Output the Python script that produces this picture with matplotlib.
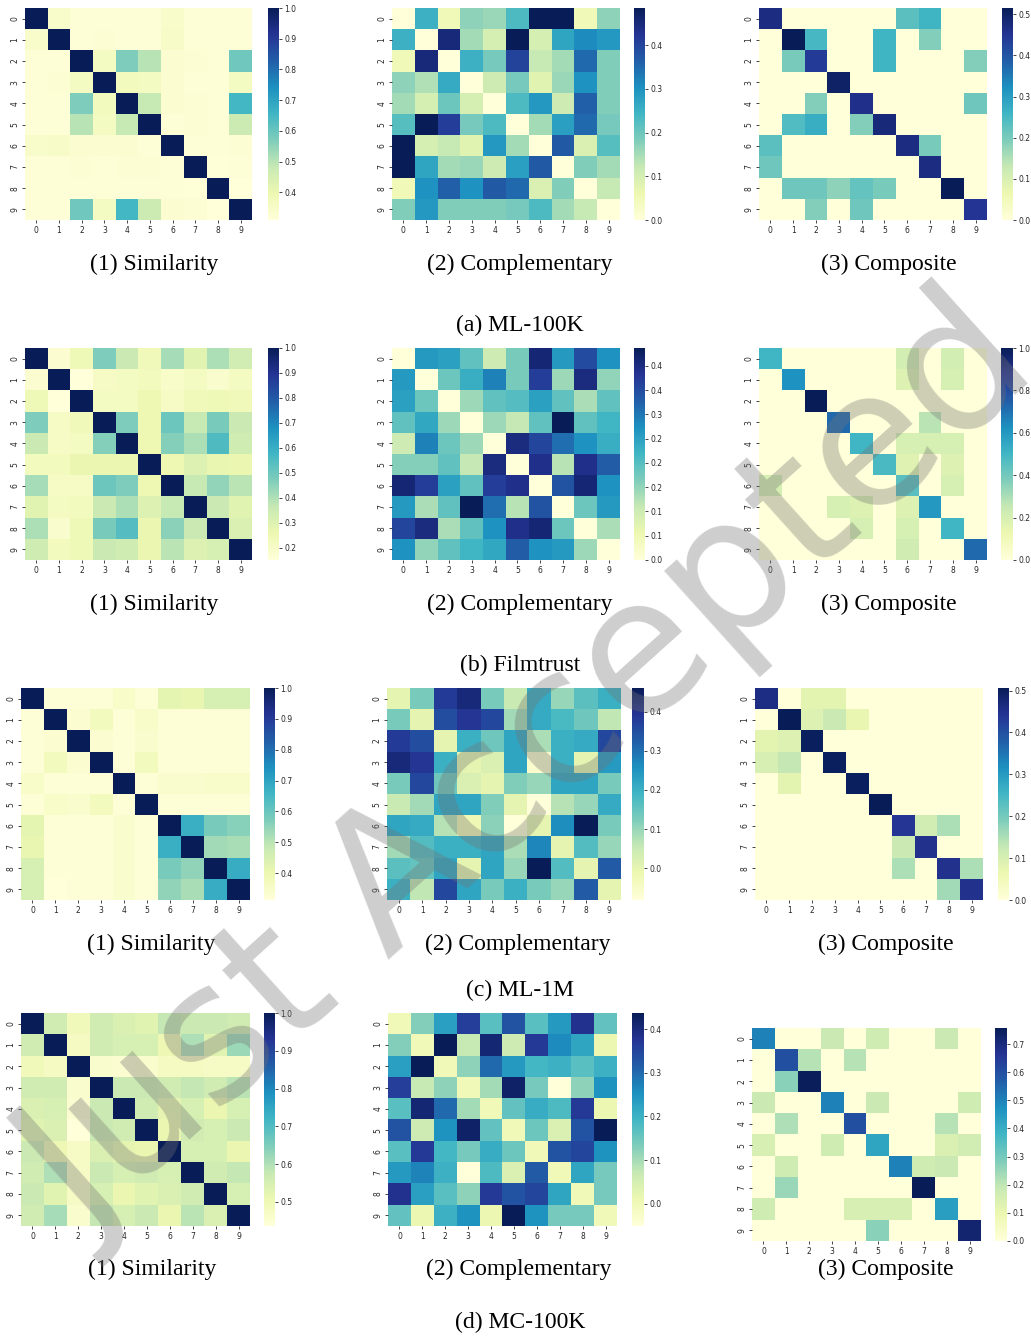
import numpy as np
import matplotlib.pyplot as plt

# ---------------- data ----------------
datasets = ['(a) ML-100K', '(b) Filmtrust', '(c) ML-1M', '(d) MC-100K']
kinds = ['(1) Similarity', '(2) Complementary', '(3) Composite']
labels = [str(i) for i in range(10)]

ml100k_sim = [
    [1.00, 0.34, 0.32, 0.32, 0.32, 0.32, 0.34, 0.32, 0.32, 0.32],
    [0.34, 1.00, 0.32, 0.325, 0.32, 0.32, 0.35, 0.32, 0.32, 0.32],
    [0.32, 0.32, 1.00, 0.36, 0.57, 0.50, 0.33, 0.325, 0.32, 0.59],
    [0.32, 0.325, 0.36, 1.00, 0.37, 0.36, 0.33, 0.32, 0.32, 0.36],
    [0.32, 0.32, 0.57, 0.37, 1.00, 0.48, 0.33, 0.325, 0.32, 0.65],
    [0.32, 0.32, 0.50, 0.36, 0.48, 1.00, 0.32, 0.325, 0.32, 0.47],
    [0.34, 0.35, 0.33, 0.33, 0.33, 0.32, 1.00, 0.32, 0.32, 0.325],
    [0.32, 0.32, 0.325, 0.32, 0.325, 0.325, 0.32, 1.00, 0.315, 0.32],
    [0.32, 0.32, 0.32, 0.32, 0.32, 0.32, 0.32, 0.315, 1.00, 0.31],
    [0.32, 0.32, 0.59, 0.36, 0.65, 0.47, 0.33, 0.325, 0.31, 1.00],
]
ml100k_comp = [
    [0.00, 0.25, 0.05, 0.17, 0.16, 0.23, 0.485, 0.485, 0.05, 0.17],
    [0.25, 0.00, 0.45, 0.15, 0.10, 0.485, 0.10, 0.27, 0.31, 0.29],
    [0.05, 0.45, 0.00, 0.25, 0.19, 0.40, 0.12, 0.15, 0.35, 0.18],
    [0.17, 0.14, 0.26, 0.00, 0.11, 0.19, 0.08, 0.16, 0.30, 0.18],
    [0.15, 0.10, 0.20, 0.10, 0.00, 0.23, 0.29, 0.11, 0.36, 0.18],
    [0.22, 0.485, 0.41, 0.19, 0.23, 0.00, 0.15, 0.28, 0.35, 0.19],
    [0.485, 0.10, 0.12, 0.08, 0.29, 0.15, 0.00, 0.37, 0.09, 0.22],
    [0.485, 0.27, 0.15, 0.16, 0.11, 0.28, 0.37, 0.00, 0.18, 0.15],
    [0.05, 0.30, 0.36, 0.30, 0.37, 0.35, 0.09, 0.18, 0.00, 0.12],
    [0.18, 0.29, 0.18, 0.18, 0.18, 0.19, 0.23, 0.15, 0.12, 0.00],
]
ml100k_compo = [
    [0.47, 0.00, 0.00, 0.00, 0.00, 0.00, 0.23, 0.26, 0.00, 0.00],
    [0.00, 0.515, 0.25, 0.00, 0.00, 0.26, 0.00, 0.19, 0.00, 0.00],
    [0.00, 0.20, 0.44, 0.00, 0.00, 0.26, 0.00, 0.00, 0.00, 0.19],
    [0.00, 0.00, 0.00, 0.50, 0.00, 0.00, 0.00, 0.00, 0.00, 0.00],
    [0.00, 0.00, 0.19, 0.00, 0.46, 0.00, 0.00, 0.00, 0.00, 0.21],
    [0.00, 0.24, 0.27, 0.00, 0.19, 0.48, 0.00, 0.00, 0.00, 0.00],
    [0.23, 0.00, 0.00, 0.00, 0.00, 0.00, 0.47, 0.20, 0.00, 0.00],
    [0.21, 0.00, 0.00, 0.00, 0.00, 0.00, 0.00, 0.47, 0.00, 0.00],
    [0.00, 0.21, 0.21, 0.18, 0.22, 0.20, 0.00, 0.00, 0.515, 0.00],
    [0.00, 0.00, 0.19, 0.00, 0.21, 0.00, 0.00, 0.00, 0.00, 0.45],
]

film_sim = [
    [1.00, 0.17, 0.24, 0.47, 0.35, 0.23, 0.41, 0.29, 0.40, 0.33],
    [0.17, 1.00, 0.15, 0.20, 0.21, 0.22, 0.19, 0.21, 0.18, 0.21],
    [0.24, 0.15, 1.00, 0.21, 0.21, 0.25, 0.20, 0.23, 0.24, 0.23],
    [0.47, 0.20, 0.23, 1.00, 0.47, 0.25, 0.50, 0.36, 0.48, 0.35],
    [0.35, 0.20, 0.21, 0.46, 1.00, 0.25, 0.46, 0.40, 0.55, 0.34],
    [0.22, 0.22, 0.26, 0.26, 0.26, 1.00, 0.25, 0.30, 0.27, 0.26],
    [0.41, 0.20, 0.20, 0.50, 0.47, 0.25, 1.00, 0.36, 0.44, 0.38],
    [0.29, 0.21, 0.22, 0.35, 0.40, 0.30, 0.36, 1.00, 0.35, 0.29],
    [0.40, 0.18, 0.24, 0.48, 0.54, 0.26, 0.45, 0.35, 1.00, 0.31],
    [0.34, 0.22, 0.24, 0.35, 0.34, 0.26, 0.38, 0.30, 0.32, 1.00],
]
film_comp = [
    [0.00, 0.26, 0.25, 0.19, 0.10, 0.17, 0.41, 0.26, 0.35, 0.27],
    [0.26, 0.00, 0.18, 0.23, 0.29, 0.17, 0.37, 0.14, 0.40, 0.15],
    [0.25, 0.18, 0.00, 0.14, 0.19, 0.20, 0.25, 0.19, 0.13, 0.19],
    [0.19, 0.24, 0.14, 0.00, 0.14, 0.11, 0.19, 0.437, 0.19, 0.22],
    [0.10, 0.29, 0.18, 0.14, 0.00, 0.40, 0.36, 0.31, 0.27, 0.23],
    [0.16, 0.16, 0.19, 0.11, 0.40, 0.00, 0.39, 0.12, 0.39, 0.33],
    [0.41, 0.37, 0.25, 0.19, 0.37, 0.39, 0.00, 0.34, 0.41, 0.27],
    [0.26, 0.13, 0.19, 0.437, 0.31, 0.12, 0.34, 0.00, 0.18, 0.26],
    [0.36, 0.40, 0.13, 0.19, 0.27, 0.39, 0.41, 0.18, 0.00, 0.13],
    [0.27, 0.15, 0.19, 0.22, 0.24, 0.33, 0.27, 0.26, 0.14, 0.00],
]
film_compo = [
    [0.50, 0.00, 0.00, 0.00, 0.00, 0.00, 0.21, 0.00, 0.21, 0.00],
    [0.00, 0.62, 0.00, 0.00, 0.00, 0.00, 0.18, 0.00, 0.20, 0.00],
    [0.00, 0.00, 1.00, 0.00, 0.00, 0.00, 0.00, 0.00, 0.00, 0.00],
    [0.00, 0.00, 0.00, 0.72, 0.00, 0.00, 0.00, 0.27, 0.00, 0.00],
    [0.00, 0.00, 0.00, 0.00, 0.50, 0.00, 0.20, 0.20, 0.20, 0.00],
    [0.00, 0.00, 0.00, 0.00, 0.00, 0.48, 0.17, 0.00, 0.18, 0.00],
    [0.20, 0.00, 0.00, 0.00, 0.00, 0.00, 0.45, 0.00, 0.20, 0.00],
    [0.00, 0.00, 0.00, 0.20, 0.18, 0.00, 0.18, 0.60, 0.00, 0.00],
    [0.00, 0.00, 0.00, 0.00, 0.20, 0.00, 0.20, 0.00, 0.50, 0.00],
    [0.00, 0.00, 0.00, 0.00, 0.00, 0.00, 0.22, 0.00, 0.00, 0.72],
]

ml1m_sim = [
    [1.00, 0.32, 0.32, 0.32, 0.35, 0.32, 0.42, 0.41, 0.45, 0.45],
    [0.32, 1.00, 0.33, 0.37, 0.32, 0.35, 0.32, 0.32, 0.32, 0.32],
    [0.32, 0.33, 1.00, 0.33, 0.32, 0.34, 0.32, 0.32, 0.32, 0.32],
    [0.32, 0.37, 0.33, 1.00, 0.32, 0.37, 0.32, 0.32, 0.32, 0.32],
    [0.35, 0.32, 0.32, 0.32, 1.00, 0.32, 0.34, 0.34, 0.345, 0.345],
    [0.32, 0.35, 0.34, 0.37, 0.32, 1.00, 0.32, 0.32, 0.32, 0.32],
    [0.42, 0.32, 0.32, 0.32, 0.34, 0.32, 1.00, 0.67, 0.58, 0.56],
    [0.41, 0.32, 0.32, 0.32, 0.34, 0.32, 0.67, 1.00, 0.53, 0.52],
    [0.45, 0.32, 0.32, 0.32, 0.34, 0.32, 0.58, 0.55, 1.00, 0.68],
    [0.45, 0.313, 0.32, 0.32, 0.34, 0.32, 0.55, 0.52, 0.68, 1.00],
]
ml1m_comp = [
    [0.00, 0.13, 0.38, 0.42, 0.13, 0.05, 0.21, 0.10, 0.16, 0.20],
    [0.13, 0.00, 0.35, 0.39, 0.36, 0.09, 0.21, 0.18, 0.14, 0.06],
    [0.38, 0.35, 0.00, 0.20, 0.14, 0.22, 0.08, 0.20, 0.21, 0.36],
    [0.42, 0.39, 0.20, 0.00, 0.02, 0.22, -0.06, 0.20, 0.00, 0.24],
    [0.13, 0.36, 0.14, 0.02, 0.00, 0.12, 0.10, 0.22, 0.22, 0.13],
    [0.05, 0.09, 0.22, 0.22, 0.12, 0.00, -0.081, 0.07, 0.10, 0.21],
    [0.22, 0.21, 0.07, -0.02, 0.11, -0.081, 0.00, 0.26, 0.46, 0.13],
    [0.09, 0.17, 0.20, 0.20, 0.22, 0.08, 0.27, 0.00, 0.17, 0.10],
    [0.16, 0.15, 0.22, 0.00, 0.22, 0.10, 0.46, 0.17, 0.00, 0.33],
    [0.20, 0.06, 0.36, 0.22, 0.13, 0.20, 0.13, 0.10, 0.33, 0.00],
]
ml1m_compo = [
    [0.46, 0.00, 0.08, 0.08, 0.00, 0.00, 0.00, 0.00, 0.00, 0.00],
    [0.00, 0.506, 0.09, 0.12, 0.07, 0.00, 0.00, 0.00, 0.00, 0.00],
    [0.08, 0.09, 0.50, 0.00, 0.00, 0.00, 0.00, 0.00, 0.00, 0.00],
    [0.10, 0.13, 0.00, 0.50, 0.00, 0.00, 0.00, 0.00, 0.00, 0.00],
    [0.00, 0.08, 0.00, 0.00, 0.50, 0.00, 0.00, 0.00, 0.00, 0.00],
    [0.00, 0.00, 0.00, 0.00, 0.00, 0.506, 0.00, 0.00, 0.00, 0.00],
    [0.00, 0.00, 0.00, 0.00, 0.00, 0.00, 0.44, 0.11, 0.15, 0.00],
    [0.00, 0.00, 0.00, 0.00, 0.00, 0.00, 0.12, 0.45, 0.00, 0.00],
    [0.00, 0.00, 0.00, 0.00, 0.00, 0.00, 0.15, 0.00, 0.45, 0.15],
    [0.00, 0.00, 0.00, 0.00, 0.00, 0.00, 0.00, 0.00, 0.16, 0.45],
]

mc_sim = [
    [1.00, 0.56, 0.49, 0.56, 0.54, 0.53, 0.58, 0.57, 0.57, 0.56],
    [0.56, 1.00, 0.48, 0.56, 0.55, 0.55, 0.50, 0.60, 0.53, 0.62],
    [0.49, 0.48, 1.00, 0.46, 0.45, 0.46, 0.48, 0.48, 0.47, 0.47],
    [0.56, 0.56, 0.46, 1.00, 0.57, 0.57, 0.56, 0.58, 0.56, 0.59],
    [0.54, 0.55, 0.45, 0.57, 1.00, 0.56, 0.52, 0.55, 0.51, 0.55],
    [0.53, 0.54, 0.436, 0.57, 0.56, 1.00, 0.51, 0.56, 0.55, 0.57],
    [0.57, 0.50, 0.47, 0.54, 0.52, 0.51, 1.00, 0.55, 0.55, 0.51],
    [0.56, 0.60, 0.47, 0.57, 0.55, 0.56, 0.55, 1.00, 0.56, 0.58],
    [0.57, 0.53, 0.47, 0.55, 0.51, 0.53, 0.54, 0.56, 1.00, 0.55],
    [0.56, 0.61, 0.46, 0.58, 0.55, 0.57, 0.51, 0.59, 0.54, 1.00],
]
mc_comp = [
    [0.00, 0.13, 0.23, 0.36, 0.17, 0.33, 0.17, 0.24, 0.38, 0.16],
    [0.13, 0.00, 0.437, 0.07, 0.41, 0.06, 0.37, 0.26, 0.22, 0.01],
    [0.23, 0.437, 0.00, 0.12, 0.30, 0.24, 0.19, 0.20, 0.17, 0.20],
    [0.36, 0.07, 0.12, 0.00, 0.10, 0.42, 0.14, -0.051, 0.12, 0.25],
    [0.17, 0.41, 0.30, 0.10, 0.00, 0.16, 0.21, 0.18, 0.37, 0.01],
    [0.33, 0.06, 0.25, 0.42, 0.16, 0.00, 0.15, 0.04, 0.33, 0.437],
    [0.17, 0.37, 0.19, 0.14, 0.21, 0.15, 0.00, 0.33, 0.35, 0.25],
    [0.24, 0.27, 0.20, -0.051, 0.18, 0.04, 0.32, 0.00, 0.22, 0.14],
    [0.38, 0.23, 0.17, 0.12, 0.37, 0.33, 0.35, 0.22, 0.00, 0.14],
    [0.16, 0.01, 0.20, 0.25, 0.01, 0.437, 0.25, 0.14, 0.14, 0.00],
]
mc_compo = [
    [0.50, 0.00, 0.00, 0.18, 0.00, 0.17, 0.00, 0.00, 0.18, 0.00],
    [0.00, 0.60, 0.21, 0.00, 0.21, 0.00, 0.00, 0.00, 0.00, 0.00],
    [0.00, 0.27, 0.75, 0.00, 0.00, 0.00, 0.00, 0.00, 0.00, 0.00],
    [0.18, 0.00, 0.00, 0.50, 0.00, 0.18, 0.00, 0.00, 0.00, 0.17],
    [0.00, 0.22, 0.00, 0.00, 0.60, 0.00, 0.00, 0.00, 0.21, 0.00],
    [0.15, 0.00, 0.00, 0.17, 0.00, 0.42, 0.00, 0.00, 0.14, 0.16],
    [0.00, 0.17, 0.00, 0.00, 0.00, 0.00, 0.50, 0.17, 0.18, 0.00],
    [0.00, 0.25, 0.00, 0.00, 0.00, 0.00, 0.00, 0.757, 0.00, 0.00],
    [0.17, 0.00, 0.00, 0.00, 0.15, 0.15, 0.15, 0.00, 0.44, 0.00],
    [0.00, 0.00, 0.00, 0.00, 0.00, 0.27, 0.00, 0.00, 0.00, 0.72],
]

matrices = [
    [ml100k_sim, ml100k_comp, ml100k_compo],
    [film_sim, film_comp, film_compo],
    [ml1m_sim, ml1m_comp, ml1m_compo],
    [mc_sim, mc_comp, mc_compo],
]

# colorbar ticks for every panel
cbar_ticks = [
    [np.arange(0.4, 1.01, 0.1), np.arange(0.0, 0.41, 0.1), np.arange(0.0, 0.51, 0.1)],
    [np.arange(0.2, 1.01, 0.1), np.arange(0.0, 0.45, 0.05), np.arange(0.0, 1.01, 0.2)],
    [np.arange(0.4, 1.01, 0.1), np.arange(0.0, 0.41, 0.1), np.arange(0.0, 0.51, 0.1)],
    [np.arange(0.5, 1.01, 0.1), np.arange(0.0, 0.41, 0.1), np.arange(0.0, 0.71, 0.1)],
]

# ---------------- layout (pixels) ----------------
W, H = 1031, 1338
fig = plt.figure(figsize=(W / 100, H / 100), dpi=100)


def box(l, t, r, b):
    return [l / W, 1 - b / H, (r - l) / W, (b - t) / H]


# (left, right, cbar_left, cbar_right, top, bottom)
panel_pos = [
    [(25, 252, 268, 279, 8, 220), (392, 620, 634, 645, 8, 220), (759, 987, 1002, 1013, 8, 220)],
    [(25, 252, 268, 279, 348, 560), (392, 620, 634, 645, 348, 560), (759, 987, 1001, 1013, 348, 560)],
    [(21, 250, 264, 275, 688, 900), (387, 621, 632, 644, 688, 900), (755, 983, 998, 1009, 688, 900)],
    [(21, 250, 264, 275, 1013, 1226), (388, 617, 632, 644, 1013, 1226), (752, 981, 995, 1007, 1028, 1241)],
]
caption_y = [264, 604, 944, 1269]
dataset_y = [325, 665, 990, 1322]
caption_x = [[154, 520, 889], [154, 520, 889], [151, 518, 886], [152, 519, 886]]

tick_color = '#262626'
serif = 'Liberation Serif'

for r in range(4):
    for c in range(3):
        l, rr, cl, cr, t, b = panel_pos[r][c]
        ax = fig.add_axes(box(l, t, rr, b))
        data = np.array(matrices[r][c])
        im = ax.imshow(data, cmap='YlGnBu', aspect='auto', interpolation='nearest')
        ax.set_xticks(range(10))
        ax.set_yticks(range(10))
        ax.set_xticklabels(labels)
        ax.set_yticklabels(labels, rotation=90, va='center')
        ax.tick_params(labelsize=5.5, length=2, width=0.6, pad=2, colors=tick_color)
        for s in ax.spines.values():
            s.set_visible(False)

        cax = fig.add_axes(box(cl, t, cr, b))
        cb = fig.colorbar(im, cax=cax, ticks=cbar_ticks[r][c], format='%.1f')
        cb.outline.set_visible(False)
        cax.tick_params(labelsize=5.5, length=2, width=0.6, pad=2, colors=tick_color)

        fig.text(caption_x[r][c] / W, 1 - caption_y[r] / H, kinds[c],
                 ha='center', va='center', fontsize=17, family=serif)
    fig.text(520 / W, 1 - dataset_y[r] / H, datasets[r],
             ha='center', va='center', fontsize=17, family=serif)

# watermark across the page
fig.text(0.515, 0.425, 'Just Accepted', rotation=42, fontsize=136, color='0.45',
         alpha=0.35, ha='center', va='center', family='DejaVu Sans')

plt.savefig('out.png', dpi=100)
